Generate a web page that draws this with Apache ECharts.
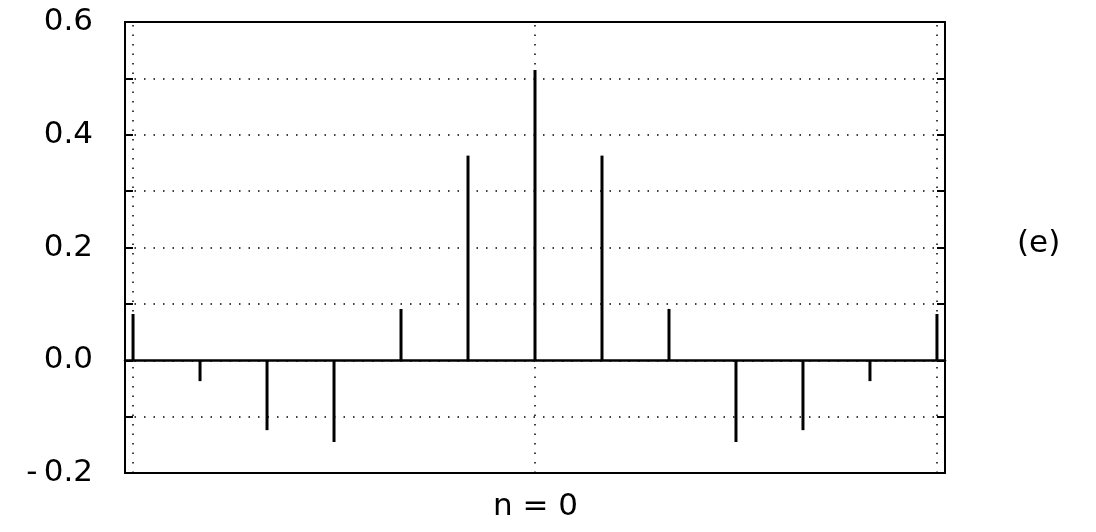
<!DOCTYPE html>
<html>
<head>
<meta charset="utf-8">
<script src="https://cdn.jsdelivr.net/npm/echarts@6/dist/echarts.min.js"></script>
<style>html,body{margin:0;padding:0;background:#fff;}#c{width:1096px;height:532px;}</style>
</head>
<body>
<div id="c"></div>
<script>
// Data
var nValues = [-6, -5, -4, -3, -2, -1, 0, 1, 2, 3, 4, 5, 6];
var hValues = [0.082, -0.037, -0.124, -0.145, 0.091, 0.363, 0.515, 0.363, 0.091, -0.145, -0.124, -0.037, 0.082];
var yTickLabels = ['-0.2', '0.0', '0.2', '0.4', '0.6'];
var verticalGridAt = [-6, 0, 6];
var xLabel = 'n = 0';
var panelLabel = '(e)';

var FONT = 'DejaVu Sans';
var FS = 31;
var chart = echarts.init(document.getElementById('c'));
var stemData = nValues.map(function (n, i) { return [n, hValues[i]]; });

chart.setOption({
  animation: false,
  backgroundColor: '#fff',
  grid: { left: 125, right: 151, top: 22, bottom: 59, show: true, borderColor: '#000', borderWidth: 2, backgroundColor: 'transparent' },
  xAxis: {
    type: 'value', min: -6.12, max: 6.12,
    axisLine: { show: true, onZero: true, lineStyle: { color: '#000', width: 2.5 } },
    axisTick: { show: false }, axisLabel: { show: false }, splitLine: { show: false }
  },
  yAxis: [{
    type: 'value', min: -0.2, max: 0.6, interval: 0.1,
    axisLine: { show: false, onZero: false },
    axisTick: { show: true, inside: true, length: 8, lineStyle: { color: '#000', width: 2 } },
    axisLabel: {
      color: '#000', fontFamily: FONT, fontSize: FS, margin: 32, padding: [4, 0, 0, 0],
      formatter: function (v) {
        var r = Math.round(v * 10);
        if (r % 2 !== 0) return '';
        var s = (Math.abs(r) / 10).toFixed(1);
        var key = (r < 0 ? '-' : '') + s;
        var lbl = yTickLabels.indexOf(key) >= 0 ? key : s;
        return lbl.replace('-', '-\u2009');
      }
    },
    splitLine: { show: true, lineStyle: { color: '#000', width: 1.5, type: [1.5, 8] } }
  }, {
    type: 'value', min: -0.2, max: 0.6, interval: 0.1, position: 'right',
    axisLine: { show: false, onZero: false },
    axisTick: { show: true, inside: true, length: 8, lineStyle: { color: '#000', width: 2 } },
    axisLabel: { show: false }, splitLine: { show: false }
  }],
  series: [{
    type: 'bar', data: stemData, barWidth: 3, yAxisIndex: 0,
    itemStyle: { color: '#000' }, silent: true,
    markLine: {
      silent: true, symbol: 'none', label: { show: false },
      lineStyle: { color: '#000', width: 1.5, type: [1.5, 8] },
      data: verticalGridAt.map(function (x) { return { xAxis: x }; })
    }
  }],
  graphic: [
    { type: 'text', left: 537 - 44, top: 491, style: { text: xLabel, font: FS + 'px "' + FONT + '"', fill: '#000' } },
    { type: 'text', left: 1017, top: 228, style: { text: panelLabel, font: FS + 'px "' + FONT + '"', fill: '#000' } }
  ]
});
</script>
</body>
</html>
